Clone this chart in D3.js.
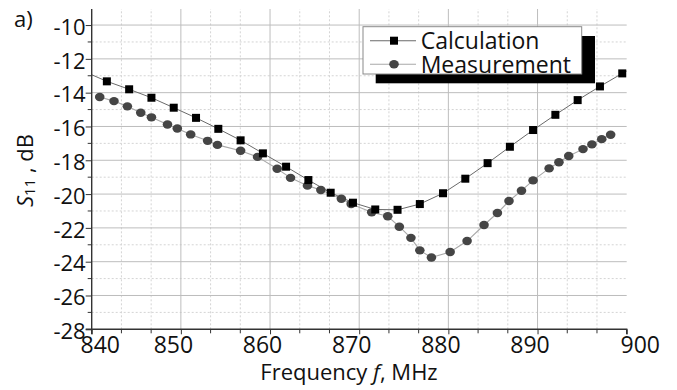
<!DOCTYPE html>
<html>
<head>
<meta charset="utf-8">
<script src="https://cdn.jsdelivr.net/npm/d3@7"></script>
<style>
  body { margin: 0; background: #fff; }
  svg text { font-family: "Open Sans", sans-serif; fill: #111; }
</style>
</head>
<body>
<div id="chart"></div>
<script>
// S11 vs frequency - calculation and measurement

// Calculation (markers)
const calcF = [841.7, 844.2, 846.7, 849.2, 851.7, 854.2, 856.7, 859.2, 861.8, 864.3, 866.8, 869.3,
               871.8, 874.3, 876.8, 879.4, 881.9, 884.4, 886.9, 889.5, 892.0, 894.5, 897.0, 899.5];
const calcS = [-13.33, -13.80, -14.30, -14.89, -15.49, -16.14, -16.82, -17.59, -18.38, -19.17, -19.92, -20.51,
               -20.91, -20.93, -20.59, -19.95, -19.09, -18.17, -17.20, -16.21, -15.31, -14.44, -13.63, -12.86];
// calculation curve ends (line runs to the plot edges)
const calcEdgeF = [840, 900];
const calcEdgeS = [-12.94, -12.72];

// Measurement
const measF = [840.9, 842.5, 844.0, 845.5, 846.7, 848.5, 849.6, 851.1, 853.0, 854.1, 856.7, 858.6, 860.8,
               862.3, 864.2, 865.7, 868.0, 869.1, 871.4, 873.2, 874.5, 875.8, 876.8, 878.1, 880.2, 882.1,
               884.0, 885.5, 886.8, 888.2, 889.5, 891.3, 892.4, 893.5, 895.1, 896.1, 897.2, 898.2];
const measS = [-14.26, -14.50, -14.81, -15.19, -15.46, -15.88, -16.12, -16.47, -16.85, -17.09, -17.44, -17.80, -18.50,
               -19.04, -19.50, -19.76, -20.28, -20.59, -21.08, -21.31, -21.93, -22.59, -23.33, -23.75, -23.43, -22.78,
               -21.83, -21.12, -20.41, -19.80, -19.19, -18.48, -18.12, -17.75, -17.34, -17.06, -16.75, -16.49];

const xTicks = [840, 850, 860, 870, 880, 890, 900];
const yTicks = [-28, -26, -24, -22, -20, -18, -16, -14, -12, -10];
const legendLabels = ['Calculation', 'Measurement'];

const width = 677, height = 390;
const margin = {left: 91.7, right: 50.3, top: 9, bottom: 60.7};

const svg = d3.select('#chart').append('svg')
    .attr('width', width)
    .attr('height', height);

const x = d3.scaleLinear().domain([840, 900]).range([margin.left, width - margin.right]);
const y = d3.scaleLinear().domain([-28, -9.05]).range([height - margin.bottom, margin.top]);

// minor positions
const xMinor = d3.range(840, 900.01, 10 / 3).filter(v => Math.abs((v - 840) % 10) > 0.5 && Math.abs((v - 840) % 10) < 9.5);
const yMinor = d3.range(-27, -9, 2);

// Grid
const grid = svg.append('g');
grid.selectAll('line.vminor').data(xMinor).enter().append('line')
    .attr('x1', d => x(d)).attr('x2', d => x(d))
    .attr('y1', y(-28)).attr('y2', y(-9.05))
    .attr('stroke', '#d4d4d4').attr('stroke-dasharray', '2,2');
grid.selectAll('line.hminor').data(yMinor).enter().append('line')
    .attr('x1', x(840)).attr('x2', x(900))
    .attr('y1', d => y(d)).attr('y2', d => y(d))
    .attr('stroke', '#d4d4d4').attr('stroke-dasharray', '2,2');
grid.selectAll('line.vmajor').data(xTicks.slice(1, -1)).enter().append('line')
    .attr('x1', d => x(d)).attr('x2', d => x(d))
    .attr('y1', y(-28)).attr('y2', y(-9.05))
    .attr('stroke', '#bdbdbd');
grid.selectAll('line.hmajor').data(yTicks.slice(1)).enter().append('line')
    .attr('x1', x(840)).attr('x2', x(900))
    .attr('y1', d => y(d)).attr('y2', d => y(d))
    .attr('stroke', '#bdbdbd');

// Lines
const calcLine = [[calcEdgeF[0], calcEdgeS[0]]]
    .concat(calcF.map((f, i) => [f, calcS[i]]))
    .concat([[calcEdgeF[1], calcEdgeS[1]]]);
const measLine = measF.map((f, i) => [f, measS[i]]);

const line = d3.line().x(d => x(d[0])).y(d => y(d[1]));

svg.append('path').datum(measLine)
    .attr('d', line).attr('fill', 'none')
    .attr('stroke', '#a8a8a8').attr('stroke-width', 1.1);
svg.append('path').datum(calcLine)
    .attr('d', line).attr('fill', 'none')
    .attr('stroke', '#6a6a6a').attr('stroke-width', 1);

// Markers
svg.selectAll('ellipse.meas').data(measLine).enter().append('ellipse')
    .attr('cx', d => x(d[0])).attr('cy', d => y(d[1]))
    .attr('rx', 4.8).attr('ry', 4.2)
    .attr('fill', '#454545');
svg.selectAll('rect.calc').data(calcF.map((f, i) => [f, calcS[i]])).enter().append('rect')
    .attr('x', d => x(d[0]) - 4).attr('y', d => y(d[1]) - 4)
    .attr('width', 8).attr('height', 8)
    .attr('fill', '#000');

// Axes
const xAxis = d3.axisBottom(x).tickValues(xTicks).tickSize(5).tickPadding(2.4).tickFormat(d3.format('d'));
const gx = svg.append('g')
    .attr('transform', `translate(0,${y(-28)})`)
    .call(xAxis);
gx.selectAll('text').style('font-size', '23px')
    .attr('dx', d => d === 840 ? 8 : (d === 900 ? 13 : -8));
// minor x ticks
gx.selectAll('line.minor').data(xMinor).enter().append('line')
    .attr('x1', d => x(d)).attr('x2', d => x(d))
    .attr('y1', 0).attr('y2', 4)
    .attr('stroke', '#333');

const yAxis = d3.axisLeft(y).tickValues(yTicks).tickSize(6).tickPadding(0).tickFormat(d => d);
const gy = svg.append('g')
    .attr('transform', `translate(${x(840)},0)`)
    .call(yAxis);
gy.selectAll('text').style('font-size', '22px').attr('dy', '0.42em');
gy.selectAll('line.minor').data(yMinor).enter().append('line')
    .attr('x1', -4).attr('x2', 0)
    .attr('y1', d => y(d)).attr('y2', d => y(d))
    .attr('stroke', '#333');

[gx, gy].forEach(g => {
    g.select('.domain').attr('stroke', '#333').attr('stroke-width', 1.4);
    g.selectAll('.tick line').attr('stroke', '#333');
});
gy.select('.domain').attr('d', `M-6,${y(-28)}H0V${y(-9.05)}`);
gx.select('.domain').attr('d', `M${x(840)},5V0H${x(900)}V5`);

// Axis titles
const xt = svg.append('text')
    .attr('x', 349).attr('y', 380)
    .attr('text-anchor', 'middle')
    .style('font-size', '22px');
xt.append('tspan').text('Frequency ');
xt.append('tspan').style('font-style', 'italic').text('f');
xt.append('tspan').text(', MHz');

const yt = svg.append('text')
    .attr('transform', 'translate(33,170.5) rotate(-90)')
    .attr('text-anchor', 'middle')
    .style('font-size', '22px');
yt.append('tspan').style('font-style', 'italic').text('S');
yt.append('tspan').style('font-size', '15px').attr('dy', 2).text('11');
yt.append('tspan').attr('dy', -2).text(' , dB');

svg.append('text')
    .attr('x', 14).attr('y', 27)
    .style('font-size', '22px')
    .text('a)');

// Legend
const legend = svg.append('g').attr('transform', 'translate(363,26.7)');
legend.append('rect')
    .attr('x', 12.7).attr('y', 9.3)
    .attr('width', 219.3).attr('height', 47.3)
    .attr('fill', '#000');
legend.append('rect')
    .attr('x', 0).attr('y', 0)
    .attr('width', 218.7).attr('height', 47.3)
    .attr('fill', '#fff').attr('stroke', '#8a8a8a').attr('stroke-width', 1);

const rowY = [14, 37.6];
const rowColors = ['#6a6a6a', '#a8a8a8'];
legendLabels.forEach((label, i) => {
    const row = legend.append('g').attr('transform', `translate(0,${rowY[i]})`);
    row.append('line')
        .attr('x1', 7).attr('x2', 53).attr('y1', 0).attr('y2', 0)
        .attr('stroke', rowColors[i]).attr('stroke-width', 1.1);
    if (i === 0) {
        row.append('rect').attr('x', 27).attr('y', -4).attr('width', 8).attr('height', 8).attr('fill', '#000');
    } else {
        row.append('ellipse').attr('cx', 31).attr('cy', 0).attr('rx', 4.8).attr('ry', 4.2).attr('fill', '#454545');
    }
    row.append('text')
        .attr('x', 57.7).attr('y', 8.6)
        .style('font-size', '23px')
        .text(label);
});
</script>
</body>
</html>
